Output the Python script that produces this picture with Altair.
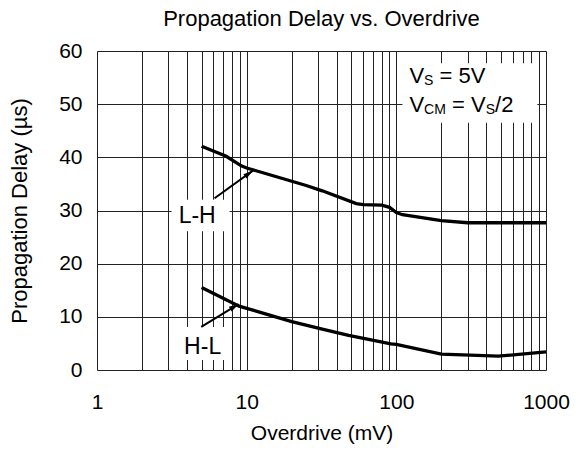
import altair as alt
import pandas as pd

# ---- data ----
lh_x = [5, 7.3, 9.2, 10, 25, 32, 54, 60, 80, 90, 100, 110, 200, 300, 1000]
lh_y = [42.1, 40.2, 38.4, 38.0, 34.7, 33.7, 31.3, 31.1, 31.0, 30.6, 29.6, 29.2, 28.1, 27.7, 27.7]
hl_x = [5, 8.9, 10, 20, 32, 48, 92, 100, 200, 480, 1000]
hl_y = [15.5, 12.0, 11.6, 9.1, 7.7, 6.5, 4.9, 4.8, 3.0, 2.6, 3.4]

x_grid = [1, 2, 3, 4, 5, 6, 7, 8, 9, 10, 20, 30, 40, 50, 60, 70, 80, 90,
          100, 200, 300, 400, 500, 600, 700, 800, 900, 1000]
x_labels = [1, 10, 100, 1000]
y_ticks = [0, 10, 20, 30, 40, 50, 60]

# annotation anchors (data coordinates)
lh_label = {"x": 4.67, "y": 27.6, "text": "L-H"}
hl_label = {"x": 5.08, "y": 3.1, "text": "H-L"}
lh_box = {"x": 3.15, "x2": 7.69, "y": 26.1, "y2": 32.0}
hl_box = {"x": 3.73, "x2": 7.46, "y": 1.9, "y2": 8.1}
vs_box = {"x": 109.8, "x2": 875, "y": 46.5, "y2": 57.7}
lh_arrow = {"x": [6.1, 11.0], "y": [32.3, 37.5]}
hl_arrow = {"x": [4.97, 8.83], "y": [8.1, 12.4]}
cond_x = 122.3
cond_y1 = 53.9
cond_y2 = 48.6

FONT = "Liberation Sans"

curves = pd.DataFrame({
    "x": lh_x + hl_x,
    "y": lh_y + hl_y,
    "s": ["L-H"] * len(lh_x) + ["H-L"] * len(hl_x),
})

xscale = alt.Scale(type="log", domain=[1, 1000], nice=False)
yscale = alt.Scale(domain=[0, 60], nice=False)

xaxis = alt.Axis(values=x_grid, title="Overdrive (mV)",
                 labelExpr="indexof([1,10,100,1000], datum.value) >= 0 ? datum.label : ''",
                 format="d", ticks=False, tickSize=0, domain=False,
                 labelPadding=21, titlePadding=10, labelFontSize=21, titleFontSize=21,
                 labelFont=FONT, titleFont=FONT, labelColor="black", titleColor="black",
                 titleFontWeight="normal", gridColor="#222", gridWidth=1,
                 labelFlush=False, labelOverlap=False)
yaxis = alt.Axis(values=y_ticks, title="Propagation Delay (µs)",
                 ticks=False, tickSize=0, domain=False,
                 labelPadding=15, titlePadding=27, labelFontSize=21, titleFontSize=22,
                 labelFont=FONT, titleFont=FONT, labelColor="black", titleColor="black",
                 titleFontWeight="normal", gridColor="#222", gridWidth=1, labelFlush=False)

X = alt.X("x:Q", scale=xscale, axis=xaxis)
Y = alt.Y("y:Q", scale=yscale, axis=yaxis)

lines = alt.Chart(curves).mark_line(color="black", strokeWidth=3.3).encode(
    x=X, y=Y, detail="s:N")


def box(b):
    return alt.Chart(pd.DataFrame([b])).mark_rect(fill="white").encode(
        x=X, x2="x2:Q", y=Y, y2="y2:Q")


boxes = box(lh_box) + box(hl_box) + box(vs_box)

labels = alt.Chart(pd.DataFrame([lh_label, hl_label])).mark_text(
    font=FONT, fontSize=23, color="black", align="center", baseline="alphabetic"
).encode(x=X, y=Y, text="text:N")

arrows_df = pd.DataFrame({
    "x": lh_arrow["x"] + hl_arrow["x"],
    "y": lh_arrow["y"] + hl_arrow["y"],
    "a": ["lh", "lh", "hl", "hl"],
})
shafts = alt.Chart(arrows_df).mark_line(color="black", strokeWidth=2).encode(
    x=X, y=Y, detail="a:N")

head_path = "M0,0L0.28,1L-0.28,1Z"
heads = (
    alt.Chart(pd.DataFrame({"x": [lh_arrow["x"][1]], "y": [lh_arrow["y"][1]]}))
    .mark_point(shape=head_path, filled=True, color="black", size=380, angle=54, opacity=1)
    .encode(x=X, y=Y)
    + alt.Chart(pd.DataFrame({"x": [hl_arrow["x"][1]], "y": [hl_arrow["y"][1]]}))
    .mark_point(shape=head_path, filled=True, color="black", size=380, angle=59, opacity=1)
    .encode(x=X, y=Y)
)


def piece(text, yv, size, dx, dy=0):
    return alt.Chart(pd.DataFrame({"x": [cond_x], "y": [yv], "t": [text]})).mark_text(
        font=FONT, fontSize=size, color="black", align="left", baseline="alphabetic",
        dx=dx, dy=dy).encode(x=X, y=Y, text="t:N")


cond = (
    piece("V", cond_y1, 22, 0) + piece("S", cond_y1, 14, 14.7, 2)
    + piece("= 5V", cond_y1, 22, 30.1)
    + piece("V", cond_y2, 22, 0) + piece("CM", cond_y2, 14, 14.7, 2)
    + piece("= V", cond_y2, 22, 42.6) + piece("S", cond_y2, 14, 76.3, 2)
    + piece("/2", cond_y2, 22, 85.6)
)

chart = alt.layer(boxes, lines, shafts, heads, labels, cond).properties(
    width=449, height=319,
    title=alt.Title("Propagation Delay vs. Overdrive", font=FONT, fontSize=22,
                    fontWeight="normal", color="black", anchor="middle", offset=9),
    autosize=alt.AutoSizeParams(type="none"),
    padding={"left": 89, "top": 43, "right": 28, "bottom": 74},
).configure_view(stroke="black", strokeWidth=2).configure(background="white")

chart.save("out.html", embed_options={"renderer": "svg", "actions": False})
